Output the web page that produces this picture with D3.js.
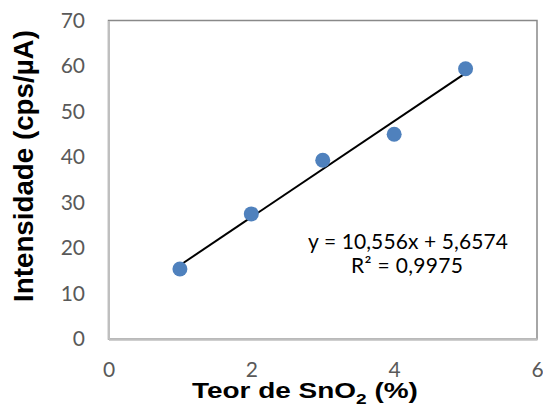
<!DOCTYPE html>
<html><head><meta charset="utf-8">
<script src="https://cdn.jsdelivr.net/npm/d3@7"></script>
<style>body{margin:0;background:#fff}</style>
</head><body>
<svg id="c" width="543" height="410"></svg>
<script>
const xValues = [1, 2, 3, 4, 5];
const yValues = [15.4, 27.5, 39.3, 45.0, 59.4];
const xTicks = [0, 2, 4, 6];
const yTicks = [0, 10, 20, 30, 40, 50, 60, 70];
const trendCoef = [10.556, 5.6574];
const trendRange = [1, 5];
const eqLabels = ["y = 10,556x + 5,6574", "R² = 0,9975"];

const svg = d3.select("#c");
const m = {l: 108.5, t: 20.5, r: 537, b: 339};
const x = d3.scaleLinear().domain([0, 6]).range([m.l, m.r]);
const y = d3.scaleLinear().domain([0, 70]).range([m.b, m.t]);

svg.append("rect").attr("x", m.l).attr("y", m.t).attr("width", m.r - m.l).attr("height", m.b - m.t)
  .attr("fill", "none").attr("stroke", "#898989").attr("stroke-width", 1.5);

const font = "Lato, 'Open Sans', sans-serif";
const bold = "'Liberation Sans'";
const ya = svg.append("g").attr("transform", `translate(${m.l},0)`)
  .call(d3.axisLeft(y).tickValues(yTicks).tickFormat(d3.format("d")).tickSize(0).tickPadding(23.5));
ya.select(".domain").attr("stroke", "#bfbfbf").attr("stroke-width", 2);
ya.selectAll("text").attr("font-family", font).attr("font-size", 21).attr("fill", "#595959");

const xa = svg.append("g").attr("transform", `translate(0,${m.b})`)
  .call(d3.axisBottom(x).tickValues(xTicks).tickFormat(d3.format("d")).tickSize(0).tickPadding(23));
xa.select(".domain").attr("stroke", "#bfbfbf").attr("stroke-width", 2.5);
xa.selectAll("text").attr("font-family", font).attr("font-size", 21).attr("fill", "#595959");

svg.append("line")
  .attr("x1", x(trendRange[0])).attr("y1", y(trendCoef[0] * trendRange[0] + trendCoef[1]))
  .attr("x2", x(trendRange[1])).attr("y2", y(trendCoef[0] * trendRange[1] + trendCoef[1]))
  .attr("stroke", "#000").attr("stroke-width", 2);

svg.selectAll("circle.pt").data(xValues).enter().append("circle")
  .attr("cx", (d) => x(d)).attr("cy", (d, i) => y(yValues[i])).attr("r", 7.5)
  .attr("fill", "#4f81bd");

svg.append("text").attr("x", 408).attr("y", 249).attr("text-anchor", "middle")
  .attr("font-family", font).attr("font-size", 21).attr("fill", "#000")
  .attr("textLength", 200).attr("lengthAdjust", "spacing").text(eqLabels[0]);
svg.append("text").attr("x", 407).attr("y", 273).attr("text-anchor", "middle")
  .attr("font-family", font).attr("font-size", 21).attr("fill", "#000")
  .attr("textLength", 112).attr("lengthAdjust", "spacing").text(eqLabels[1]);

// Y axis title
const yt = svg.append("text").attr("transform", "translate(33,166) rotate(-90)").attr("text-anchor", "middle")
  .attr("font-family", bold).attr("font-weight", "bold").attr("font-size", 27)
  .text("Intensidade (cps/µA)");
{
  const w = yt.node().getComputedTextLength();
  const s = 272 / w;
  yt.attr("transform", `translate(33,166) rotate(-90) scale(${s},1)`);
}

// X axis title
const xg = svg.append("g");
const xt = xg.append("text").attr("x", 0).attr("y", 0).attr("text-anchor", "start")
  .attr("font-family", bold).attr("font-weight", "bold").attr("font-size", 22);
xt.append("tspan").text("Teor de SnO");
xt.append("tspan").attr("font-size", 15).attr("dy", 6).text("2");
xt.append("tspan").attr("dy", -6).text(" (%)");
{
  const bb = xt.node().getBBox();
  const s = 226 / bb.width;
  xg.attr("transform", `translate(192,398) scale(${s},1) translate(${-bb.x},0)`);
}
</script>
</body></html>
